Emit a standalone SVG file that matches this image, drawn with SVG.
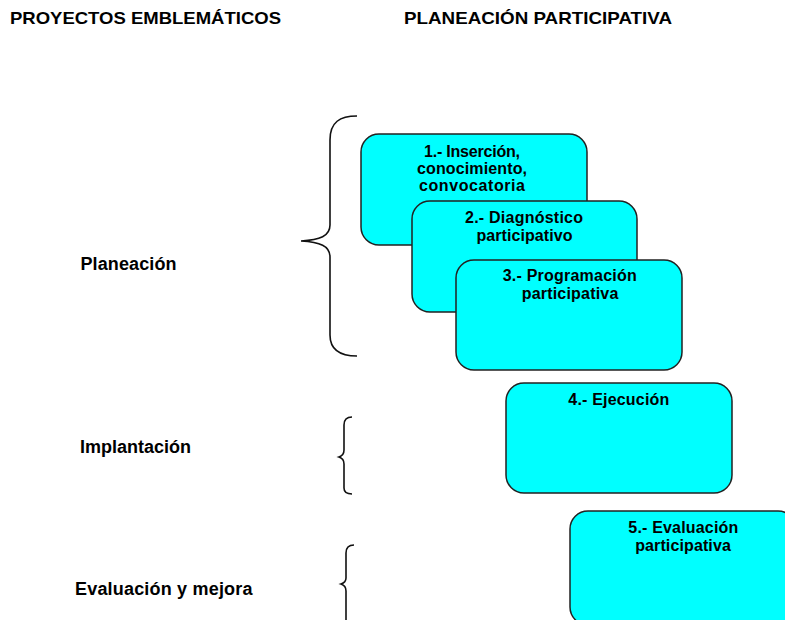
<svg xmlns="http://www.w3.org/2000/svg" width="785" height="620" viewBox="0 0 785 620">
<style>
.box{fill:#00FFFF;stroke:#222;stroke-width:1.5}
.t{font-family:"Liberation Sans",Arial,sans-serif;font-weight:bold;fill:#000}
.bt{font-size:16px;text-anchor:middle}
.lab{font-size:18px}
.title{font-size:17px}
.brace{fill:none;stroke:#111;stroke-width:1.6}
</style>
<rect width="785" height="620" fill="#fff"/>
<text class="t title" x="10" y="24" textLength="271" lengthAdjust="spacingAndGlyphs">PROYECTOS EMBLEMÁTICOS</text>
<text class="t title" x="404" y="24" textLength="268" lengthAdjust="spacingAndGlyphs">PLANEACIÓN PARTICIPATIVA</text>
<g id="labels">
<text class="t lab" x="80.5" y="270" textLength="96">Planeación</text>
<text class="t lab" x="80" y="453">Implantación</text>
<text class="t lab" x="75" y="595" textLength="177.5">Evaluación y mejora</text>
</g>
<g id="braces">
<path class="brace" d="M357,116 C340,116 330,122 330,140 L330,225 C330,236 320,240 301,241 C320,242 330,246 330,257 L330,335 C330,350 340,356 357,356"/>
<path class="brace" d="M352,417 C346,417 344,420 344,425 L344,450 C344,454 342,456 339,457 C342,458 344,460 344,464 L344,488 C344,492 346,494 352,494"/>
<path class="brace" d="M354,545 C348,545 346,548 346,553 L346,578 C346,581 344,583 341,584 C344,585 346,587 346,591 L346,622"/>
</g>
<g id="n1">
<rect class="box" x="361" y="134" width="226" height="111" rx="18"/>
<text class="t bt" x="472" y="157" textLength="96">1.- Inserción,</text>
<text class="t bt" x="472" y="174" textLength="110">conocimiento,</text>
<text class="t bt" x="472" y="191" textLength="106">convocatoria</text>
</g>
<g id="n2">
<rect class="box" x="412" y="201" width="225" height="111" rx="18"/>
<text class="t bt" x="524" y="223" textLength="118">2.- Diagnóstico</text>
<text class="t bt" x="524.5" y="241" textLength="96">participativo</text>
</g>
<g id="n3">
<rect class="box" x="456" y="260" width="226" height="110" rx="18"/>
<text class="t bt" x="569.7" y="281" textLength="134">3.- Programación</text>
<text class="t bt" x="570" y="299" textLength="96.6">participativa</text>
</g>
<g id="n4">
<rect class="box" x="506" y="383" width="226" height="110" rx="18"/>
<text class="t bt" x="618.8" y="405" textLength="101">4.- Ejecución</text>
</g>
<g id="n5">
<rect class="box" x="570" y="511" width="226" height="114" rx="18"/>
<text class="t bt" x="683.3" y="533" textLength="110">5.- Evaluación</text>
<text class="t bt" x="683" y="551" textLength="95.7">participativa</text>
</g>
<g id="connectors"/>
</svg>
